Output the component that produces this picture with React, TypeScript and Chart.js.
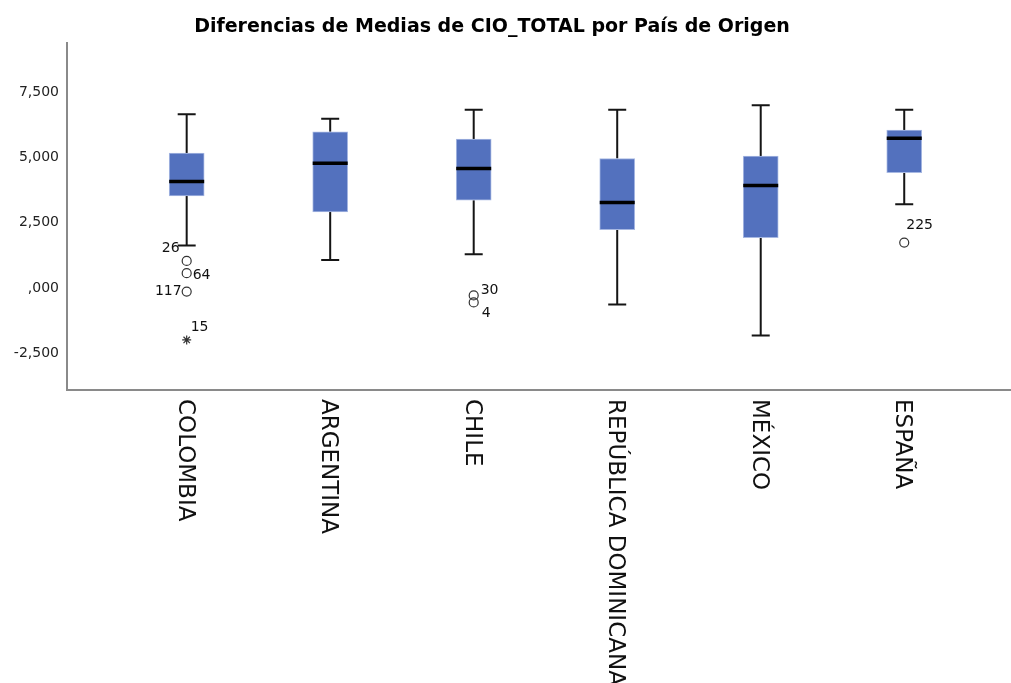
import React, { useEffect, useRef } from "react";
import { Chart, registerables } from "chart.js";

Chart.register(...registerables);

const chartTitle = "Diferencias de Medias de CIO_TOTAL por País de Origen";
const categories = ["COLOMBIA", "ARGENTINA", "CHILE", "REPÚBLICA DOMINICANA", "MÉXICO", "ESPAÑA"];
const whiskerLow = [1629, 1082, 1300, -627, -1812, 3211];
const q1 = [3529, 2917, 3364, 2240, 1934, 4419];
const median = [4075, 4779, 4572, 3272, 3922, 5734];
const q3 = [5161, 5975, 5696, 4955, 5046, 6040];
const whiskerHigh = [6652, 6472, 6816, 6816, 6996, 6816];

const outlierCategory = [0, 0, 0, 0, 2, 2, 5];
const outlierValue = [1044, 573, -130, -1976, -275, -543, 1743];
const outlierId = ["26", "64", "117", "15", "30", "4", "225"];
const outlierKind = ["circle", "circle", "circle", "extreme", "circle", "circle", "circle"];

const yTickValues = [-2500, 0, 2500, 5000, 7500];
const yTickLabels = ["-2,500", ",000", "2,500", "5,000", "7,500"];

// label placement for outlier ids: [align, dx, dy]
const labelPlacement: Record<string, [CanvasTextAlign, number, number]> = {
  "26": ["right", -7, -13],
  "64": ["left", 6, 2],
  "117": ["right", -5, 0],
  "15": ["left", 4, -13],
  "30": ["left", 7, -5],
  "4": ["left", 8, 11],
  "225": ["left", 2, -17],
};

const FONT = '"DejaVu Sans", sans-serif';

const boxPlugin = {
  id: "boxExtras",
  beforeDatasetsDraw(chart: any) {
    const ctx = chart.ctx;
    const xs = chart.scales.x;
    const ys = chart.scales.y;
    ctx.save();
    ctx.strokeStyle = "#151515";
    ctx.lineWidth = 2;
    const cap = 9;
    categories.forEach((_, i) => {
      const x = xs.getPixelForValue(i);
      const yHi = ys.getPixelForValue(whiskerHigh[i]);
      const yQ3 = ys.getPixelForValue(q3[i]);
      const yQ1 = ys.getPixelForValue(q1[i]);
      const yLo = ys.getPixelForValue(whiskerLow[i]);
      ctx.beginPath();
      ctx.moveTo(x, yHi);
      ctx.lineTo(x, yQ3);
      ctx.moveTo(x, yQ1);
      ctx.lineTo(x, yLo);
      ctx.moveTo(x - cap, yHi);
      ctx.lineTo(x + cap, yHi);
      ctx.moveTo(x - cap, yLo);
      ctx.lineTo(x + cap, yLo);
      ctx.stroke();
    });
    ctx.restore();
  },
  afterDatasetsDraw(chart: any) {
    const ctx = chart.ctx;
    const xs = chart.scales.x;
    const ys = chart.scales.y;
    ctx.save();
    // medians
    ctx.strokeStyle = "#000";
    ctx.lineWidth = 3.5;
    categories.forEach((_, i) => {
      const x = xs.getPixelForValue(i);
      const y = ys.getPixelForValue(median[i]);
      ctx.beginPath();
      ctx.moveTo(x - 17.5, y);
      ctx.lineTo(x + 17.5, y);
      ctx.stroke();
    });
    // outlier labels
    ctx.fillStyle = "#111";
    ctx.font = `14px ${FONT}`;
    ctx.textBaseline = "middle";
    outlierId.forEach((id, k) => {
      const x = xs.getPixelForValue(outlierCategory[k]);
      const y = ys.getPixelForValue(outlierValue[k]);
      const [align, dx, dy] = labelPlacement[id];
      ctx.textAlign = align;
      ctx.fillText(id, x + dx, y + dy);
    });
    // title
    ctx.font = `bold 19px ${FONT}`;
    ctx.textAlign = "center";
    ctx.fillStyle = "#000";
    ctx.fillText(chartTitle, 492, 27);
    // rotated category labels
    ctx.font = `23px ${FONT}`;
    ctx.fillStyle = "#111";
    ctx.textAlign = "left";
    ctx.textBaseline = "middle";
    categories.forEach((c, i) => {
      const x = xs.getPixelForValue(i);
      ctx.save();
      ctx.translate(x - 2, chart.chartArea.bottom + 9);
      ctx.rotate(Math.PI / 2);
      ctx.fillText(c, 0, 0);
      ctx.restore();
    });
    ctx.restore();
  },
};

export default function App() {
  const ref = useRef<HTMLCanvasElement>(null);
  useEffect(() => {
    document.body.style.margin = "0";
    const canvas = ref.current!;
    const chart = new Chart(canvas, {
      type: "bar",
      data: {
        datasets: [
          {
            type: "bar",
            data: categories.map((_, i) => ({ x: i, y: [q1[i], q3[i]] })) as any,
            backgroundColor: "#5371BE",
            borderColor: "#A7B8E2",
            borderWidth: 1,
            borderSkipped: false,
            barThickness: 35,
          } as any,
          {
            type: "scatter",
            data: outlierValue.map((v, k) => ({ x: outlierCategory[k], y: v })),
            pointStyle: (c: any) => (outlierKind[c.dataIndex] === "extreme" ? "star" : "circle"),
            pointRadius: (c: any) => (outlierKind[c.dataIndex] === "extreme" ? 4.5 : 4.5),
            borderColor: "#333",
            backgroundColor: "rgba(0,0,0,0)",
            borderWidth: 1.2,
          } as any,
        ],
      },
      options: {
        responsive: false,
        animation: false,
        events: [],
        layout: { autoPadding: false, padding: { top: 43, left: 0, right: 0, bottom: 0 } },
        plugins: {
          legend: { display: false },
          title: { display: false },
          tooltip: { enabled: false },
        },
        scales: {
          x: {
            type: "linear",
            offset: false,
            bounds: "data",
            min: -0.834,
            max: 5.744,
            grid: { display: false, drawTicks: false, offset: false },
            ticks: { display: false },
            border: { display: true, color: "#8a8a8a", width: 2 },
            afterFit: (s: any) => {
              s.height = 293;
            },
          },
          y: {
            type: "linear",
            min: -3890,
            max: 9370,
            afterBuildTicks: (s: any) => {
              s.ticks = yTickValues.map((v) => ({ value: v }));
            },
            ticks: {
              callback: (v: any) => {
                const idx = yTickValues.indexOf(Number(v));
                return idx >= 0 ? yTickLabels[idx] : "";
              },
              font: { family: "DejaVu Sans", size: 14 },
              color: "#222",
              padding: 8,
            },
            grid: { display: false, drawTicks: false },
            border: { display: true, color: "#8a8a8a", width: 2 },
            afterFit: (s: any) => {
              s.width = 67;
            },
          },
        },
      } as any,
      plugins: [boxPlugin],
    });
    return () => chart.destroy();
  }, []);
  return (
    <div style={{ position: "absolute", left: 0, top: 0, width: 1011, height: 683 }}>
      <canvas ref={ref} width={1011} height={683} />
    </div>
  );
}
